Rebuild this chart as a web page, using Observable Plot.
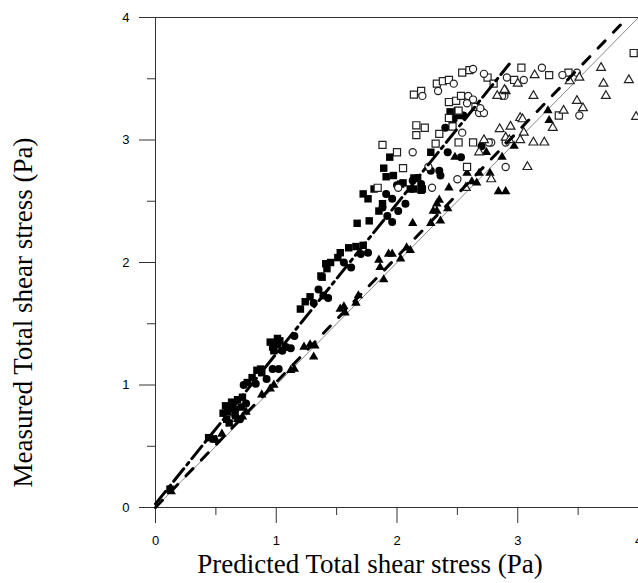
<!DOCTYPE html>
<html><head><meta charset="utf-8">
<script src="https://cdn.jsdelivr.net/npm/d3@7"></script>
<script src="https://cdn.jsdelivr.net/npm/@observablehq/plot@0.6"></script>
<style>body{margin:0;background:#fff}</style>
</head><body><div id="chart"></div>
<script>
// ---- data (Predicted, Measured) in Pa ----
const filledSquares = [
  [0.12,0.15],[0.44,0.57],[0.48,0.56],[0.58,0.83],[0.60,0.78],[0.59,0.72],[0.63,0.86],[0.66,0.80],[0.71,0.82],[0.72,0.90],
  [0.56,0.77],[0.61,0.69],[0.68,0.88],
  [0.76,1.02],[0.84,1.12],[0.87,1.13],[0.88,1.10],[0.80,1.06],
  [0.95,1.35],[1.01,1.38],[0.98,1.28],[1.01,1.33],[0.97,1.31],[1.03,1.36],
  [1.20,1.62],[1.28,1.72],[1.24,1.68],[1.37,1.89],
  [1.38,1.88],[1.41,1.99],[1.42,1.95],[1.45,2.00],[1.51,2.04],[1.53,2.08],[1.60,2.12],[1.66,2.13],[1.72,2.14],
  [1.67,2.32],[1.77,2.34],[1.85,2.42],[1.88,2.48],[1.72,2.56],[1.76,2.52],[1.81,2.60],[1.89,2.77],[1.94,2.86],
  [1.91,2.70],[1.97,2.71],[2.03,2.64],[2.05,2.65],[2.11,2.60],[2.14,2.60],[2.20,2.59],[2.21,2.60],[2.14,2.69],
  [2.28,2.90],[2.44,3.23],[2.50,3.24],[2.47,3.18],[2.52,3.20]
];
const filledCircles = [
  [0.62,0.81],[0.66,0.75],[0.70,0.72],[0.75,0.85],[0.73,1.00],[0.83,1.01],[0.97,1.13],[1.02,1.13],[0.92,1.05],
  [1.05,1.28],[1.08,1.31],[1.12,1.30],[1.15,1.40],[1.31,1.67],[1.39,1.73],[1.43,1.71],[1.35,1.78],
  [1.62,1.96],[1.70,2.07],[1.76,2.08],[1.56,2.00],
  [1.91,2.56],[1.96,2.52],[2.07,2.48],[2.01,2.42],[1.92,2.38],[1.96,2.33],[1.88,2.45],[2.00,2.63],[2.13,2.67],
  [2.17,2.69],[2.20,2.64],[2.28,2.75],[2.35,2.75],[2.36,2.71],[2.42,2.90],[2.53,2.86],[2.70,2.95],[2.46,3.15],
  [2.55,3.20],[2.40,3.10]
];
const filledTriangles = [
  [0.13,0.13],[0.50,0.55],[0.55,0.60],[0.68,0.72],[0.72,0.74],[0.75,0.78],[0.88,0.92],[0.95,0.97],[0.98,1.00],
  [1.12,1.12],[1.15,1.13],[1.23,1.31],[1.28,1.33],[1.32,1.32],[1.31,1.23],[1.53,1.62],[1.57,1.59],[1.56,1.64],
  [1.66,1.67],[1.68,1.73],[1.85,2.02],[1.86,1.96],[1.89,1.86],[1.93,2.07],[1.96,2.07],[2.03,2.03],[2.08,2.12],
  [2.11,2.10],[2.13,2.32],[2.28,2.32],[2.36,2.34],[2.33,2.42],[2.35,2.51],[2.30,2.42],[2.42,2.44],[2.33,2.48],
  [2.43,2.61],[2.48,2.86],[2.58,2.73],[2.68,2.73],[2.66,2.65],[2.77,2.73],[2.74,2.90],[2.87,2.86],[2.97,2.95],
  [2.84,2.58],[2.90,2.58],[3.25,3.24],[3.26,3.16],[2.62,2.66]
];
const openSquares = [
  [1.84,2.61],[1.88,2.96],[2.00,2.90],[2.05,2.77],[2.14,3.37],[2.20,3.40],[2.33,3.46],[2.38,3.48],[2.43,3.49],
  [2.54,3.55],[2.60,3.57],[2.75,3.51],[2.80,3.46],[3.03,3.59],[2.97,3.49],[2.43,3.31],[2.49,3.32],[2.53,3.36],
  [2.65,3.27],[2.69,3.23],[2.16,3.12],[2.23,3.10],[2.16,3.04],[2.43,3.18],[2.51,3.24],[2.46,3.11],[2.51,2.98],
  [2.63,2.98],[2.58,2.78],[2.32,2.97],[2.35,3.05],[3.26,3.53],[3.42,3.55],[3.96,3.71],[3.34,3.20]
];
const openCircles = [
  [2.21,3.36],[2.34,3.40],[2.47,3.46],[2.63,3.58],[2.72,3.54],[2.91,3.51],[3.05,3.49],[2.59,3.36],[2.63,3.33],
  [2.58,3.30],[2.68,3.22],[2.72,3.22],[2.69,3.26],[2.89,3.36],[3.20,3.59],[3.37,3.53],[3.49,3.55],[3.51,3.20],
  [2.78,2.98],[2.90,2.78],[2.87,3.36],[2.90,2.98],[2.13,2.90],[2.26,2.78],[2.29,2.61],[2.54,3.06],[2.76,2.98],
  [2.50,2.68],[2.01,2.61]
];
const openTriangles = [
  [3.69,3.59],[3.92,3.49],[3.71,3.46],[3.73,3.36],[3.98,3.19],[3.14,3.53],[3.00,3.46],[3.51,3.51],[3.43,3.48],
  [2.90,3.40],[2.83,3.36],[3.13,3.36],[3.49,3.32],[3.54,3.26],[3.38,3.24],[3.02,3.18],[3.04,3.17],[3.29,3.10],
  [2.85,3.09],[2.94,3.11],[2.90,3.02],[2.93,3.00],[3.05,3.06],[3.02,3.00],[3.13,2.98],[3.22,2.98],[3.08,2.78],
  [2.78,2.68],[2.68,2.90],[2.57,2.61],[2.89,3.41],[2.72,3.00]
];
// reference / fitted lines
const identityLine = [[0,0],[4,4]];
const upperFit = [[0,0.03],[2.93,3.62]];
const lowerFit = [[0,0],[3.9,3.99]];
// ticks and titles
const majorTicks = [0,1,2,3,4];
const minorTicks = [0.5,1.5,2.5,3.5];
const xTitle = "Predicted Total shear stress (Pa)";
const yTitle = "Measured Total shear stress (Pa)";

const px = d => d[0], py = d => d[1];
const serif = "'Liberation Serif', 'Times New Roman', serif";
const chart = Plot.plot({
  width: 638, height: 583,
  marginLeft: 155, marginRight: 0, marginTop: 17, marginBottom: 76,
  x: {domain: [0,4]},
  y: {domain: [0,4]},
  style: {fontFamily: "'Liberation Sans', Arial, sans-serif", fontSize: "13px", color: "#000", background: "#fff", overflow: "visible"},
  marks: [
    Plot.axisX(minorTicks, {tickSize: 8, fill: "none", label: null, stroke: "#333"}),
    Plot.axisX(majorTicks, {tickSize: 16, tickPadding: 12, label: null, stroke: "#333", tickFormat: d => String(d)}),
    Plot.axisY(minorTicks, {tickSize: 8, fill: "none", label: null, stroke: "#333"}),
    Plot.axisY(majorTicks, {tickSize: 16, tickPadding: 10, label: null, stroke: "#333", tickFormat: d => String(d)}),
    Plot.ruleY([0, 4], {stroke: "#333"}),
    Plot.ruleX([0], {stroke: "#333"}),
    Plot.line(identityLine, {x: px, y: py, stroke: "#888", strokeWidth: 1}),
    Plot.dot(filledSquares, {x: px, y: py, symbol: "square", r: 4.2, fill: "#000"}),
    Plot.dot(filledCircles, {x: px, y: py, symbol: "circle", r: 4, fill: "#000"}),
    Plot.dot(filledTriangles, {x: px, y: py, symbol: "triangle", r: 3.5, fill: "#000"}),
    Plot.dot(openSquares, {x: px, y: py, symbol: "square", r: 4, fill: "#fff", stroke: "#222", strokeWidth: 1.2}),
    Plot.dot(openCircles, {x: px, y: py, symbol: "circle", r: 3.6, fill: "#fff", stroke: "#222", strokeWidth: 1.2}),
    Plot.dot(openTriangles, {x: px, y: py, symbol: "triangle", r: 3.3, fill: "#fff", stroke: "#222", strokeWidth: 1.2}),
    Plot.line(upperFit, {x: px, y: py, stroke: "#000", strokeWidth: 3, strokeDasharray: "16,5,3,5"}),
    Plot.line(lowerFit, {x: px, y: py, stroke: "#000", strokeWidth: 3, strokeDasharray: "10,12"}),
    Plot.text([xTitle], {frameAnchor: "bottom", textAnchor: "middle", lineAnchor: "bottom", dx: -27, dy: 65, fontSize: 27, fontFamily: serif, fill: "#000"}),
    Plot.text([yTitle], {frameAnchor: "left", textAnchor: "middle", lineAnchor: "middle", rotate: -90, dx: -132, dy: 50, fontSize: 27, fontFamily: serif, fill: "#000"})
  ]
});
document.getElementById("chart").appendChild(chart);
</script>
</body></html>
